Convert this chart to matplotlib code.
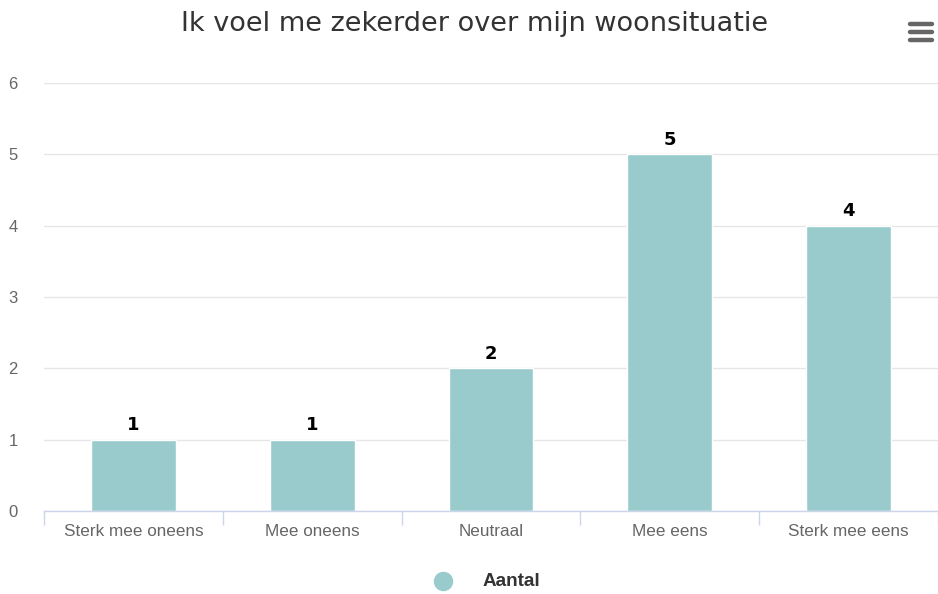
import matplotlib.pyplot as plt
from matplotlib.lines import Line2D
import numpy as np

categories = ['Sterk mee oneens', 'Mee oneens', 'Neutraal', 'Mee eens', 'Sterk mee eens']
aantal = [1, 1, 2, 5, 4]
yticks = [0, 1, 2, 3, 4, 5, 6]

bar_color = '#99cbcc'
W, H = 938, 594

fig = plt.figure(figsize=(W / 100, H / 100), dpi=100)
ax = fig.add_axes([44 / W, (H - 511) / H, (938 - 44) / W, (511 - 83) / H])

x = np.arange(len(categories))
bars = ax.bar(x, aantal, width=0.475, color=bar_color, edgecolor='white', linewidth=1, zorder=3)
for b, v in zip(bars, aantal):
    ax.text(b.get_x() + b.get_width() / 2, v + 0.08, str(v), ha='center', va='bottom',
            fontsize=13, fontweight='bold', color='black', family='DejaVu Sans', zorder=4)

ax.set_xlim(-0.5, len(categories) - 0.5)
ax.set_ylim(0, 6)
ax.set_yticks(yticks)
ax.set_yticklabels([str(t) for t in yticks], family='Liberation Sans', fontsize=12, color='#666666')
ax.yaxis.grid(True, color='#e6e6e6', linewidth=1, zorder=0)
ax.tick_params(axis='y', length=0, pad=19)

# category labels centred, tick marks at category borders
ax.set_xticks(x)
ax.set_xticklabels(categories, family='Liberation Sans', fontsize=12.3, color='#666666')
ax.tick_params(axis='x', length=0, pad=9)
ax.set_xticks(np.arange(-0.5, len(categories)), minor=True)
ax.tick_params(axis='x', which='minor', length=10, color='#ccd6eb', width=1)

for s in ['top', 'right', 'left']:
    ax.spines[s].set_visible(False)
ax.spines['bottom'].set_color('#ccd6eb')
ax.spines['bottom'].set_linewidth(1)
ax.spines['bottom'].set_zorder(5)

fig.text(475 / W, 1 - 24 / H, 'Ik voel me zekerder over mijn woonsituatie', ha='center', va='center',
         fontsize=19.5, color='#333333', family='DejaVu Sans')

# menu icon
for yy in [24, 32, 40]:
    fig.add_artist(Line2D([910 / W, 932 / W], [1 - yy / H, 1 - yy / H], color='#666666',
                          linewidth=3.2, solid_capstyle='round'))

# legend
fig.add_artist(Line2D([443 / W], [1 - 581 / H], marker='o', markersize=13, color=bar_color, linestyle='none'))
fig.text(483 / W, 1 - 581 / H, 'Aantal', ha='left', va='center', fontsize=13.6, fontweight='bold',
         color='#333333', family='Liberation Sans')

fig.savefig('out.png', dpi=100)
